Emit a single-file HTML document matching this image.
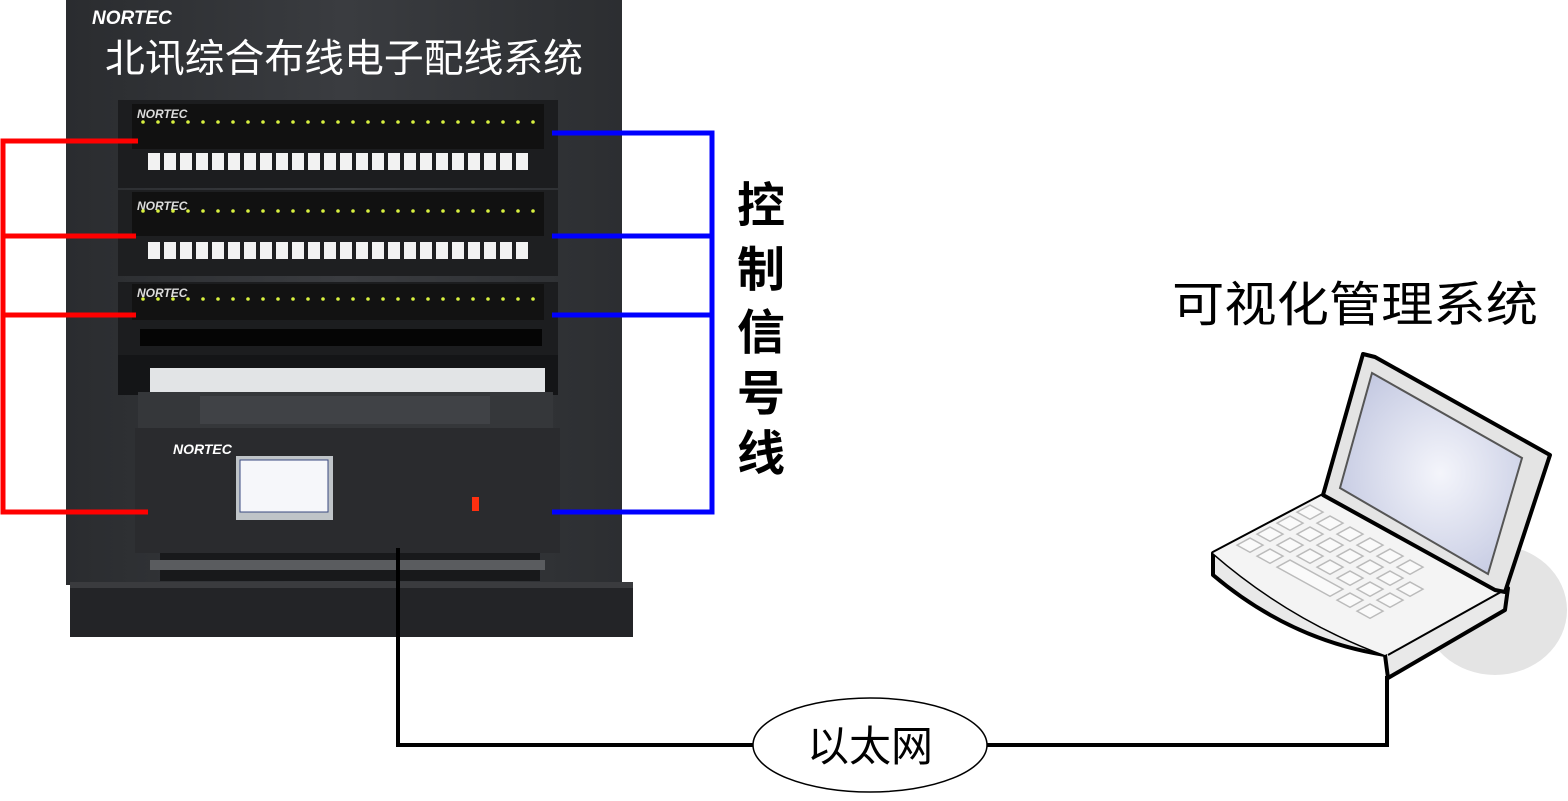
<!DOCTYPE html>
<html><head><meta charset="utf-8"><style>
html,body{margin:0;padding:0;background:#fff;}
svg{display:block;}
text{font-family:"Liberation Sans","Noto Sans CJK SC",sans-serif;}
</style></head><body>
<svg width="1568" height="801" viewBox="0 0 1568 801" xmlns="http://www.w3.org/2000/svg">
<defs>
<linearGradient id="bd" x1="0" y1="0" x2="1" y2="0"><stop offset="0" stop-color="#2a2c2f"/><stop offset="0.5" stop-color="#3a3c40"/><stop offset="1" stop-color="#2c2e31"/></linearGradient>
<radialGradient id="scr" cx="0.55" cy="0.5" r="0.6"><stop offset="0" stop-color="#f4f5fb"/><stop offset="1" stop-color="#c5cae2"/></radialGradient>
<g id="port"><rect x="0" y="0" width="11" height="16"/></g>
</defs>
<!-- rack -->
<rect x="66" y="0" width="556" height="585" fill="url(#bd)"/>
<rect x="70" y="582" width="563" height="55" fill="#232427"/>
<rect x="70" y="582" width="563" height="6" fill="#3a3b3e"/>
<text x="92" y="24" font-size="19" font-weight="bold" font-style="italic" fill="#fff">NORTEC</text>
<text x="105" y="72" font-size="39" fill="#fff" textLength="478" lengthAdjust="spacingAndGlyphs">北讯综合布线电子配线系统</text>
<!-- panels -->
<g>
<rect x="118" y="100" width="440" height="88" fill="#1c1d1f"/>
<rect x="132" y="104" width="412" height="45" fill="#111"/>
<text x="137" y="118" font-size="12" font-weight="bold" font-style="italic" fill="#ddd">NORTEC</text>
<rect x="118" y="190" width="440" height="86" fill="#1e1f21"/>
<rect x="132" y="192" width="412" height="44" fill="#111"/>
<text x="137" y="210" font-size="12" font-weight="bold" font-style="italic" fill="#ddd">NORTEC</text>
<rect x="118" y="282" width="440" height="74" fill="#1c1d1f"/>
<rect x="132" y="284" width="412" height="36" fill="#121212"/>
<text x="137" y="297" font-size="12" font-weight="bold" font-style="italic" fill="#ddd">NORTEC</text>
</g>
<g id="leds" fill="#d8f040">
<circle cx="143" cy="122" r="1.8"/><circle cx="158" cy="122" r="1.8"/><circle cx="173" cy="122" r="1.8"/><circle cx="188" cy="122" r="1.8"/><circle cx="203" cy="122" r="1.8"/><circle cx="218" cy="122" r="1.8"/><circle cx="233" cy="122" r="1.8"/><circle cx="248" cy="122" r="1.8"/><circle cx="263" cy="122" r="1.8"/><circle cx="278" cy="122" r="1.8"/><circle cx="293" cy="122" r="1.8"/><circle cx="308" cy="122" r="1.8"/><circle cx="323" cy="122" r="1.8"/><circle cx="338" cy="122" r="1.8"/><circle cx="353" cy="122" r="1.8"/><circle cx="368" cy="122" r="1.8"/><circle cx="383" cy="122" r="1.8"/><circle cx="398" cy="122" r="1.8"/><circle cx="413" cy="122" r="1.8"/><circle cx="428" cy="122" r="1.8"/><circle cx="443" cy="122" r="1.8"/><circle cx="458" cy="122" r="1.8"/><circle cx="473" cy="122" r="1.8"/><circle cx="488" cy="122" r="1.8"/><circle cx="503" cy="122" r="1.8"/><circle cx="518" cy="122" r="1.8"/><circle cx="533" cy="122" r="1.8"/>
</g>
<use href="#leds" y="89"/>
<use href="#leds" y="177"/>
<!-- port rows -->
<g id="prow" fill="#f2f2f2">
<rect x="148" y="153" width="12" height="17"/><rect x="164" y="153" width="12" height="17"/><rect x="180" y="153" width="12" height="17"/><rect x="196" y="153" width="12" height="17"/><rect x="212" y="153" width="12" height="17"/><rect x="228" y="153" width="12" height="17"/><rect x="244" y="153" width="12" height="17"/><rect x="260" y="153" width="12" height="17"/><rect x="276" y="153" width="12" height="17"/><rect x="292" y="153" width="12" height="17"/><rect x="308" y="153" width="12" height="17"/><rect x="324" y="153" width="12" height="17"/><rect x="340" y="153" width="12" height="17"/><rect x="356" y="153" width="12" height="17"/><rect x="372" y="153" width="12" height="17"/><rect x="388" y="153" width="12" height="17"/><rect x="404" y="153" width="12" height="17"/><rect x="420" y="153" width="12" height="17"/><rect x="436" y="153" width="12" height="17"/><rect x="452" y="153" width="12" height="17"/><rect x="468" y="153" width="12" height="17"/><rect x="484" y="153" width="12" height="17"/><rect x="500" y="153" width="12" height="17"/><rect x="516" y="153" width="12" height="17"/>
</g>
<use href="#prow" y="89" style="fill:#d8d8d8"/>
<rect x="140" y="329" width="402" height="17" fill="#050505"/>
<rect x="118" y="355" width="440" height="40" fill="#141517"/>
<rect x="150" y="368" width="395" height="50" fill="#e2e4e6"/>
<!-- controller -->
<rect x="138" y="392" width="415" height="36" fill="#35373a"/>
<rect x="200" y="396" width="290" height="28" fill="#404246"/>
<rect x="135" y="428" width="425" height="125" fill="#2a2b2e"/>
<rect x="160" y="553" width="380" height="28" fill="#18191b"/>
<rect x="150" y="560" width="395" height="10" fill="#5a5c5f"/>
<text x="173" y="454" font-size="14" font-weight="bold" font-style="italic" fill="#fff">NORTEC</text>
<rect x="236" y="456" width="97" height="64" fill="#bfc4c8"/>
<rect x="240" y="460" width="88" height="52" fill="#f6f7fa" stroke="#3a4a80" stroke-width="1"/>
<rect x="472" y="497" width="7" height="14" fill="#ff3010"/>
<!-- red -->
<g stroke="#ff0000" stroke-width="5" fill="none">
<polyline points="138,141 3,141 3,512 148,512"/>
<line x1="3" y1="236" x2="136" y2="236"/>
<line x1="3" y1="315" x2="136" y2="315"/>
</g>
<!-- blue -->
<g stroke="#0000ff" stroke-width="5" fill="none">
<polyline points="552,133 712,133 712,512 552,512"/>
<line x1="552" y1="236" x2="712" y2="236"/>
<line x1="552" y1="315" x2="712" y2="315"/>
</g>
<g font-size="48" fill="#000" font-weight="bold">
<text x="737" y="222">控</text>
<text x="737" y="286">制</text>
<text x="737" y="349">信</text>
<text x="737" y="410">号</text>
<text x="737" y="470">线</text>
</g>
<!-- ethernet -->
<polyline points="398,548 398,745 753,745" fill="none" stroke="#000" stroke-width="4"/>
<polyline points="987,745 1387,745 1387,676" fill="none" stroke="#000" stroke-width="4"/>
<ellipse cx="870" cy="745" rx="117" ry="47" fill="#fff" stroke="#000" stroke-width="1.5"/>
<text x="870" y="761" font-size="42" text-anchor="middle" fill="#000">以太网</text>
<text x="1172" y="321" font-size="48" fill="#000" textLength="366" lengthAdjust="spacingAndGlyphs">可视化管理系统</text>
<!-- laptop -->
<ellipse cx="1495" cy="610" rx="72" ry="65" fill="#e4e4e4"/>
<path d="M1213,553 L1323,495 L1508,588 L1505,610 L1388,678 L1385,655 Q1290,640 1213,575 Z" fill="#e9e9e9" stroke="#000" stroke-width="4" stroke-linejoin="round"/>
<path d="M1213,553 Q1290,620 1385,655" fill="none" stroke="#000" stroke-width="3"/>
<path d="M1213,553 L1323,495 L1508,588 L1385,655 Q1290,620 1213,553 Z" fill="#f4f4f4"/>
<line x1="1388" y1="655" x2="1508" y2="588" stroke="#000" stroke-width="2"/>
<path d="M1363,354 L1375,357 L1550,455 L1505,592 L1495,590 L1323,495 Z" fill="#e4e4e4" stroke="#000" stroke-width="4" stroke-linejoin="round"/>
<path d="M1372,373 L1522,458 L1488,574 L1340,488 Z" fill="url(#scr)" stroke="#555" stroke-width="2"/>
<g fill="#fafafa" stroke="#bbb" stroke-width="1.5">
<g transform="matrix(1,0.55,-1,0.55,1310,505)">
<rect x="0" y="0" width="13" height="13"/><rect x="20" y="0" width="13" height="13"/><rect x="40" y="0" width="13" height="13"/><rect x="60" y="0" width="13" height="13"/><rect x="80" y="0" width="13" height="13"/><rect x="100" y="0" width="13" height="13"/>
<rect x="0" y="20" width="13" height="13"/><rect x="20" y="20" width="13" height="13"/><rect x="40" y="20" width="13" height="13"/><rect x="60" y="20" width="13" height="13"/><rect x="80" y="20" width="13" height="13"/><rect x="100" y="20" width="13" height="13"/><rect x="120" y="20" width="13" height="13"/>
<rect x="0" y="40" width="13" height="13"/><rect x="20" y="40" width="13" height="13"/><rect x="40" y="40" width="13" height="13"/><rect x="60" y="40" width="13" height="13"/><rect x="80" y="40" width="13" height="13"/><rect x="100" y="40" width="13" height="13"/><rect x="120" y="40" width="13" height="13"/>
<rect x="0" y="60" width="13" height="13"/><rect x="20" y="60" width="13" height="13"/><rect x="40" y="60" width="53" height="13"/><rect x="100" y="60" width="13" height="13"/><rect x="120" y="60" width="13" height="13"/>
</g>
</g>
</svg>
</body></html>
